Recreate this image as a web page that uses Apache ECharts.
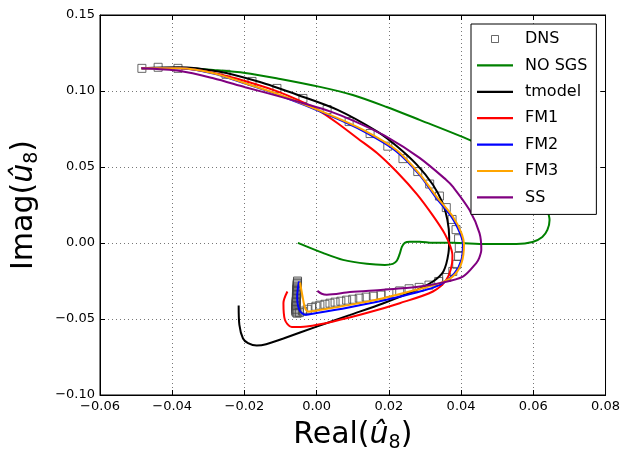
<!DOCTYPE html>
<html><head><meta charset="utf-8">
<script src="https://cdn.jsdelivr.net/npm/echarts@6/dist/echarts.min.js"></script>
<style>html,body{margin:0;padding:0;background:#fff}#c{width:623px;height:458px}</style>
</head><body><div id="c"></div>
<script>
const seriesNames = ['DNS', 'NO SGS', 'tmodel', 'FM1', 'FM2', 'FM3', 'SS'];
const xTickLabels = ['\u22120.06', '\u22120.04', '\u22120.02', '0.00', '0.02', '0.04', '0.06', '0.08'];
const yTickLabels = ['\u22120.10', '\u22120.05', '0.00', '0.05', '0.10', '0.15'];

const dns = [
  [-0.0484,0.1149],[-0.0439,0.1156],[-0.0384,0.1149],[-0.0251,0.1110],[-0.0179,0.1063],[-0.0110,0.1017],
  [-0.0038,0.0951],[0.0029,0.0878],[0.0090,0.0799],[0.0148,0.0720],[0.0197,0.0637],[0.0239,0.0555],
  [0.0280,0.0470],[0.0313,0.0388],[0.0340,0.0309],[0.0359,0.0233],[0.0375,0.0155],[0.0386,0.0088],
  [0.0393,0.0028],[0.0395,-0.0030],[0.0393,-0.0088],[0.0388,-0.0140],[0.0377,-0.0187],[0.0360,-0.0227],
  [0.0338,-0.0253],[0.0311,-0.0277],[0.0284,-0.0292],[0.0256,-0.0301],[0.0230,-0.0315],[0.0200,-0.0330],
  [0.0178,-0.0343],[0.0157,-0.0350],[0.0137,-0.0356],[0.0118,-0.0363],[0.0100,-0.0370],[0.0083,-0.0376],
  [0.0067,-0.0383],[0.0051,-0.0389],[0.0037,-0.0396],[0.0023,-0.0403],[0.0009,-0.0409],[-0.0002,-0.0416],
  [-0.0014,-0.0425],[-0.0026,-0.0436],[-0.0039,-0.0448],[-0.0048,-0.0458],[-0.0054,-0.0462],[-0.0057,-0.0455],
  [-0.0058,-0.0447],[-0.0058,-0.0438],[-0.0058,-0.0429],[-0.0058,-0.0420],[-0.0057,-0.0411],[-0.0057,-0.0402],
  [-0.0057,-0.0393],[-0.0057,-0.0384],[-0.0056,-0.0375],[-0.0056,-0.0366],[-0.0056,-0.0357],[-0.0056,-0.0348],
  [-0.0055,-0.0339],[-0.0055,-0.0330],[-0.0055,-0.0321],[-0.0055,-0.0312],[-0.0055,-0.0303],[-0.0054,-0.0294],
  [-0.0054,-0.0285],[-0.0054,-0.0276],[-0.0054,-0.0267],[-0.0053,-0.0258],[-0.0053,-0.0250]
];
const noSgs = [
  [-0.0485,0.1150],[-0.0378,0.1152],[-0.0286,0.1138],[-0.0198,0.1119],[-0.0101,0.1079],[0.0009,0.1027],
  [0.0100,0.0974],[0.0194,0.0895],[0.0285,0.0810],[0.0423,0.0678],[0.0506,0.0580],[0.0562,0.0481],
  [0.0603,0.0382],[0.0631,0.0284],[0.0639,0.0218],[0.0645,0.0152],[0.0639,0.0086],[0.0625,0.0040],
  [0.0598,0.0007],[0.0553,-0.0006],[0.0470,-0.0006],[0.0377,0.0001],[0.0321,0.0001],[0.0285,0.0008],
  [0.0258,0.0008],[0.0244,0.0001],[0.0236,-0.0026],[0.0230,-0.0071],[0.0222,-0.0117],[0.0211,-0.0137],
  [0.0189,-0.0144],[0.0139,-0.0137],[0.0073,-0.0111],[0.0017,-0.0065],[-0.0052,0.0001]
];
const tmodel = [
  [-0.0485,0.1150],[-0.0382,0.1156],[-0.0272,0.1128],[-0.0162,0.1062],[-0.0052,0.0974],[0.0058,0.0876],
  [0.0168,0.0733],[0.0223,0.0635],[0.0278,0.0514],[0.0322,0.0383],[0.0349,0.0262],[0.0362,0.0153],
  [0.0367,0.0040],[0.0365,-0.0067],[0.0351,-0.0187],[0.0322,-0.0253],[0.0277,-0.0308],[0.0185,-0.0396],
  [0.0093,-0.0473],[0.0000,-0.0550],[-0.0092,-0.0628],[-0.0140,-0.0666],[-0.0166,-0.0674],[-0.0190,-0.0658],
  [-0.0204,-0.0628],[-0.0214,-0.0539],[-0.0216,-0.0411]
];
const fm1 = [
  [-0.0485,0.1150],[-0.0382,0.1149],[-0.0272,0.1112],[-0.0162,0.1040],[-0.0107,0.0996],[-0.0052,0.0941],
  [0.0003,0.0876],[0.0058,0.0788],[0.0113,0.0689],[0.0168,0.0590],[0.0223,0.0465],[0.0278,0.0320],
  [0.0322,0.0180],[0.0355,0.0060],[0.0370,-0.0020],[0.0376,-0.0080],[0.0375,-0.0132],[0.0359,-0.0242],
  [0.0322,-0.0319],[0.0230,-0.0396],[0.0138,-0.0461],[0.0046,-0.0516],[-0.0028,-0.0549],[-0.0069,-0.0553],
  [-0.0088,-0.0505],[-0.0092,-0.0395],[-0.0081,-0.0319]
];
const fm2 = [
  [-0.0485,0.1150],[-0.0378,0.1150],[-0.0286,0.1115],[-0.0198,0.1049],[-0.0101,0.0970],[0.0037,0.0838],
  [0.0129,0.0736],[0.0221,0.0603],[0.0285,0.0448],[0.0330,0.0300],[0.0374,0.0170],[0.0398,0.0060],
  [0.0405,-0.0005],[0.0401,-0.0111],[0.0382,-0.0198],[0.0341,-0.0275],[0.0276,-0.0326],[0.0184,-0.0378],
  [0.0092,-0.0422],[0.0000,-0.0461],[-0.0032,-0.0472],[-0.0048,-0.0440],[-0.0054,-0.0352],[-0.0049,-0.0253]
];
const fm3 = [
  [-0.0485,0.1150],[-0.0378,0.1150],[-0.0286,0.1117],[-0.0198,0.1051],[-0.0101,0.0974],[0.0037,0.0843],
  [0.0129,0.0744],[0.0221,0.0612],[0.0285,0.0455],[0.0332,0.0305],[0.0377,0.0174],[0.0401,0.0065],
  [0.0408,-0.0010],[0.0401,-0.0132],[0.0377,-0.0221],[0.0341,-0.0264],[0.0276,-0.0308],[0.0184,-0.0363],
  [0.0092,-0.0407],[0.0009,-0.0440],[-0.0023,-0.0451],[-0.0032,-0.0428],[-0.0039,-0.0352],[-0.0046,-0.0260]
];
const ss = [
  [-0.0485,0.1150],[-0.0378,0.1132],[-0.0286,0.1084],[-0.0198,0.1025],[-0.0101,0.0963],[-0.0037,0.0919],
  [0.0037,0.0866],[0.0101,0.0805],[0.0193,0.0700],[0.0285,0.0560],[0.0359,0.0415],[0.0377,0.0371],
  [0.0423,0.0218],[0.0451,0.0065],[0.0456,-0.0045],[0.0450,-0.0100],[0.0442,-0.0132],[0.0405,-0.0221],
  [0.0341,-0.0264],[0.0276,-0.0290],[0.0184,-0.0308],[0.0092,-0.0323],[0.0028,-0.0340],[0.0014,-0.0334],
  [0.0002,-0.0315]
];

const X_MIN = -0.06, X_MAX = 0.08, X_INT = 0.02;
const Y_MIN = -0.10, Y_MAX = 0.15, Y_INT = 0.05;
const FONT = 'DejaVu Sans';
const lineColors = ['#008000', '#000000', '#ff0000', '#0000ff', '#ffa500', '#800080'];
const lineData = [noSgs, tmodel, fm1, fm2, fm3, ss];

function xFmt(v) { return xTickLabels[Math.round((v - X_MIN) / X_INT)] || ''; }
function yFmt(v) { return yTickLabels[Math.round((v - Y_MIN) / Y_INT)] || ''; }

const gridLine = { show: true, lineStyle: { color: '#777', type: [1, 3], width: 1 } };
const axisBase = {
  type: 'value',
  axisLine: { show: true, onZero: false, lineStyle: { color: '#000', width: 1 } },
  axisTick: { show: true, inside: true, length: 5, lineStyle: { color: '#000' } },
};

const chart = echarts.init(document.getElementById('c'), null, { renderer: 'canvas' });
const series = [{
  name: seriesNames[0], type: 'scatter', data: dns, symbol: 'rect', symbolSize: 8,
  itemStyle: { color: 'rgba(255,255,255,0)', borderColor: '#444', borderWidth: 1 }, z: 2
}];
lineData.forEach((d, i) => {
  series.push({
    name: seriesNames[i + 1], type: 'line', data: d, showSymbol: false, symbol: 'none',
    smooth: 0.3, lineStyle: { color: lineColors[i], width: 2 }, itemStyle: { color: lineColors[i] }, z: 3
  });
});

const nameRich = {
  n: { fontFamily: FONT, fontSize: 30, color: '#000', lineHeight: 36 },
  u: { fontFamily: FONT, fontSize: 30, fontStyle: 'italic', color: '#000', lineHeight: 36 },
  s: { fontFamily: FONT, fontSize: 19, color: '#000', lineHeight: 16, verticalAlign: 'bottom' }
};
const lineIcon = 'path://M0,0h36v2.2h-36Z';

chart.setOption({
  animation: false,
  backgroundColor: '#fff',
  grid: { left: 100, right: 17, top: 15, bottom: 63, show: true, borderColor: '#000', borderWidth: 1 },
  xAxis: [
    Object.assign({}, axisBase, {
      min: X_MIN, max: X_MAX, interval: X_INT, position: 'bottom',
      splitLine: gridLine,
      axisLabel: { formatter: xFmt, fontFamily: FONT, fontSize: 13, color: '#000', margin: 5 },
      name: '{n|Real(}{u|\u00fb}{s|8}{n|)}', nameLocation: 'middle', nameGap: 22,
      nameTextStyle: { rich: nameRich }
    }),
    Object.assign({}, axisBase, {
      min: X_MIN, max: X_MAX, interval: X_INT, position: 'top',
      splitLine: { show: false }, axisLabel: { show: false }
    })
  ],
  yAxis: [
    Object.assign({}, axisBase, {
      min: Y_MIN, max: Y_MAX, interval: Y_INT, position: 'left',
      splitLine: gridLine,
      axisLabel: { formatter: yFmt, fontFamily: FONT, fontSize: 13, color: '#000', margin: 5 },
      name: '{n|Imag(}{u|\u00fb}{s|8}{n|)}', nameLocation: 'middle', nameGap: 58, nameRotate: 90,
      nameTextStyle: { rich: nameRich }
    }),
    Object.assign({}, axisBase, {
      min: Y_MIN, max: Y_MAX, interval: Y_INT, position: 'right',
      splitLine: { show: false }, axisLabel: { show: false }
    })
  ],
  legend: {
    orient: 'vertical', left: 471, top: 24, selectedMode: false,
    itemWidth: 36, itemHeight: 14, itemGap: 10.4,
    padding: [7, 9, 9, 6],
    backgroundColor: '#fff', borderColor: '#000', borderWidth: 1, borderRadius: 0,
    textStyle: { fontFamily: FONT, fontSize: 16, color: '#000', padding: [0, 0, 0, 7] },
    data: [
      { name: seriesNames[0], icon: 'path://M0,0M14,14M3.5,3.5h7v7h-7Z',
        itemStyle: { color: 'rgba(255,255,255,0)', borderColor: '#444', borderWidth: 1 } },
      { name: seriesNames[1], icon: lineIcon },
      { name: seriesNames[2], icon: lineIcon },
      { name: seriesNames[3], icon: lineIcon },
      { name: seriesNames[4], icon: lineIcon },
      { name: seriesNames[5], icon: lineIcon },
      { name: seriesNames[6], icon: lineIcon }
    ]
  },
  series: series
});
</script>
</body></html>
